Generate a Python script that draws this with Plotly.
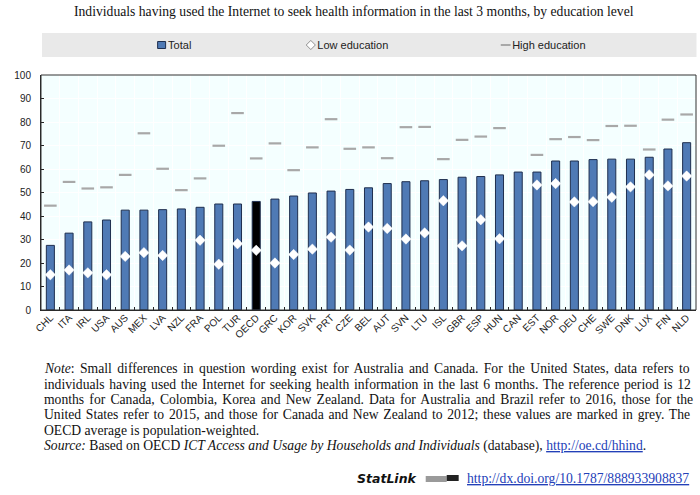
import plotly.graph_objects as go

countries = ["CHL","ITA","IRL","USA","AUS","MEX","LVA","NZL","FRA","POL","TUR","OECD","GRC","KOR","SVK","PRT","CZE","BEL","AUT","SVN","LTU","ISL","GBR","ESP","HUN","CAN","EST","NOR","DEU","CHE","SWE","DNK","LUX","FIN","NLD"]
total = [27.5,32.7,37.5,38.3,42.5,42.5,42.7,43.0,43.7,45.1,45.1,46.2,47.2,48.5,49.8,50.6,51.3,52.0,53.8,54.6,55.0,55.5,56.5,56.8,57.5,58.7,58.7,63.4,63.4,64.0,64.2,64.2,65.0,68.5,71.2]
low = [15.0,17.0,15.8,15.0,22.8,24.4,23.2,None,29.7,19.5,28.2,25.4,20.0,23.6,25.9,31.0,25.5,35.3,34.7,30.2,32.8,46.5,27.3,38.4,30.3,None,53.2,53.8,46.0,46.1,48.0,52.4,57.5,52.8,57.0]
high = [44.4,54.5,51.7,52.2,57.5,75.2,60.1,51.0,56.0,69.9,83.8,64.5,70.9,59.5,69.2,81.2,68.6,69.2,64.6,77.8,77.9,64.2,72.4,73.8,77.4,None,66.0,72.7,73.6,72.3,78.3,78.4,68.3,81.0,83.2]
title = "Individuals having used the Internet to seek health information in the last 3 months, by education level"
LINK = "#2340B8"
def just(t, sp):
    return f"<span style='word-spacing:{sp}px'>{t}</span>"
note_lines = [
 just("<i>Note</i>: Small differences in question wording exist for Australia and Canada. For the United States, data refers to", 2.03),
 just("individuals having used the Internet for seeking health information in the last 6 months. The reference period is 12", 1.25),
 just("months for Canada, Colombia, Korea and New Zealand. Data for Australia and Brazil refer to 2016, those for the", 1.76),
 just("United States refer to 2015, and those for Canada and New Zealand to 2012; these values are marked in grey. The", 1.3),
 "OECD average is population-weighted.",
 f"<i>Source:</i> Based on OECD <i>ICT Access and Usage by Households and Individuals</i> (database), <span style='color:{LINK}'><u>http://oe.cd/hhind</u></span>.",
]

W, H = 700, 495
L, R, T, B = 41, 696.5, 75, 310
px = lambda x: (x - L) / (R - L)
py = lambda y: (B - y) / (B - T)

BLUE = "#4F7AB5"
EDGE = "#1F2F4F"
fig = go.Figure()
fig.add_bar(x=countries, y=total, name="Total", legend="legend",
            marker=dict(color=[("#000000" if c == "OECD" else BLUE) for c in countries], line=dict(color=EDGE, width=1)))
fig.add_scatter(x=countries, y=high, mode="markers", showlegend=False,
                marker=dict(symbol="line-ew", size=9, line=dict(color="#A8A8A8", width=2.2)))
fig.add_scatter(x=countries, y=low, mode="markers", showlegend=False,
                marker=dict(symbol="diamond", size=8, color="white", line=dict(color="white", width=0.5)))
fig.add_scatter(x=[None], y=[None], mode="markers", name="Low education", legend="legend2",
                marker=dict(symbol="diamond", size=7, color="white", line=dict(color="#666666", width=0.7)))
fig.add_scatter(x=[None], y=[None], mode="markers", name="High education", legend="legend3",
                marker=dict(symbol="line-ew", size=7, line=dict(color="#A8A8A8", width=2)))

def leg(x):
    return dict(x=px(x), y=py(45), xanchor="left", yanchor="middle", bgcolor="rgba(0,0,0,0)",
                font=dict(family="Liberation Sans", size=11, color="#222222"), itemsizing="trace",
                tracegroupgap=0, borderwidth=0)

def note(x, y, text, anchor="left", family="Liberation Serif", size=13.65):
    return dict(xref="paper", yref="paper", x=px(x), y=py(y), text=text, showarrow=False, xanchor=anchor,
                yanchor="middle", align=anchor, font=dict(family=family, size=size, color="#111111"))

ann = [note(354, 12, title, "center")]
note_y = [368, 384, 399, 415, 430.5, 446]
for t, y in zip(note_lines, note_y):
    ann.append(note(42, y, t))
ann.append(note(355, 478, "<i><b>StatLink</b></i>", family="DejaVu Sans", size=12.5))
ann.append(note(465.5, 478, f"<span style='color:{LINK}'><u>http://dx.doi.org/10.1787/888933908837</u></span>"))

def box(x0, x1, y0, y1, color):
    return dict(type="rect", xref="paper", yref="paper", x0=px(x0), x1=px(x1), y0=py(y0), y1=py(y1),
                fillcolor=color, line=dict(width=0))

fig.update_layout(
    width=W, height=H, autosize=False,
    margin=dict(l=L, r=W - R, t=T, b=H - B, pad=0),
    paper_bgcolor="white", plot_bgcolor="#F4FFFF",
    bargap=0.57, showlegend=True,
    legend=leg(141.7), legend2=leg(291), legend3=leg(486),
    annotations=ann,
    shapes=[dict(box(42, 697, 33, 57, "#E9E9E9"), layer="below"),
            box(426, 447, 476, 482, "#9A9A9A"), box(447, 459, 475, 481, "#222222"),
            dict(type="rect", xref="paper", yref="paper", x0=0, x1=1, y0=0, y1=1,
                 line=dict(color="#333333", width=1), layer="above")],
    xaxis=dict(type="category", tickangle=-45, tickfont=dict(family="Liberation Sans", size=10, color="#222222"),
               tickson="boundaries", ticks="inside", ticklen=3, tickcolor="#222222", ticklabelstandoff=-3,
               showgrid=True, gridcolor="white", gridwidth=1,
               showline=True, linecolor="#222222", linewidth=1, range=[-0.5, 34.5]),
    yaxis=dict(range=[0, 100], dtick=10, ticks="inside", ticklen=3, tickcolor="#222222", ticklabelstandoff=7,
               tickfont=dict(family="Liberation Sans", size=10, color="#222222"),
               showgrid=True, gridcolor="white", gridwidth=1, zeroline=False,
               showline=True, linecolor="#222222", linewidth=1),
)
post = """
document.body.style.margin='0';
function tweak(){
  document.querySelectorAll('.legendtext, .legend2text, .legend3text').forEach(function(t){t.setAttribute('x','26.5');});
  document.querySelectorAll('.legendpoints path').forEach(function(p){
    var d=p.getAttribute('d')||'';
    if(d.indexOf('M6,6')===0){p.setAttribute('d','M4,3.5H-4V-3.5H4Z');}
  });
}
[0,30,100,250,500,1000].forEach(function(ms){setTimeout(tweak,ms);});
"""
fig.write_html("out.html", post_script=post, config={"displayModeBar": False})
